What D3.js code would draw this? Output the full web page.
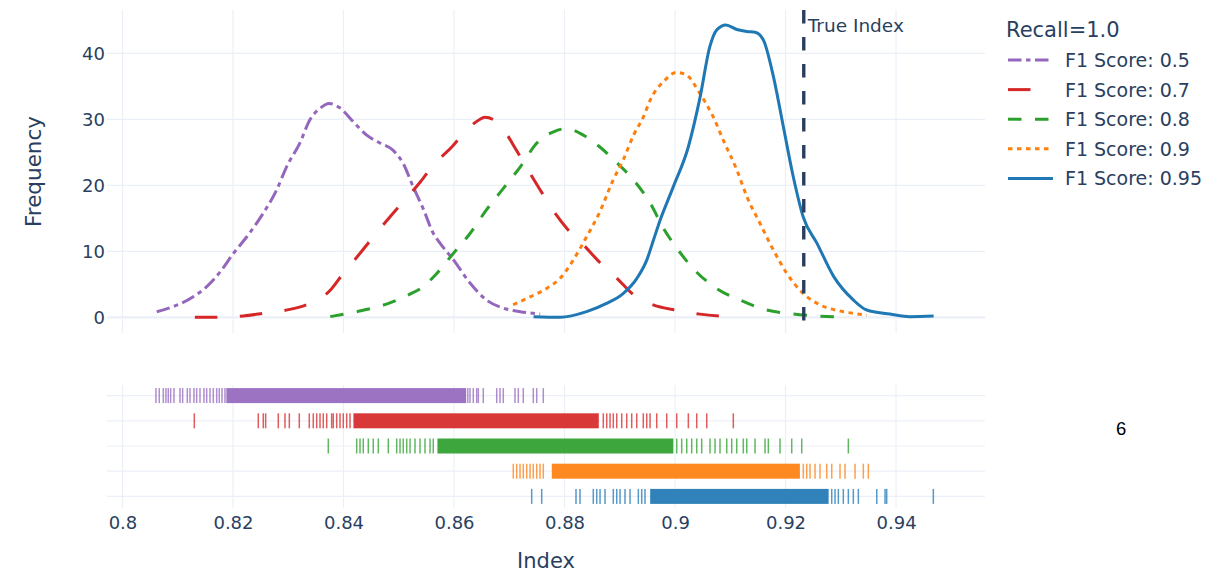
<!DOCTYPE html>
<html><head><meta charset="utf-8">
<script src="https://cdn.jsdelivr.net/npm/d3@7"></script>
<style>body{margin:0;background:#fff} svg{display:block}</style>
</head><body><svg id="c" width="1212" height="574"></svg>
<script>
// ---------- DATA ----------
const categories = ["F1 Score: 0.5", "F1 Score: 0.7", "F1 Score: 0.8", "F1 Score: 0.9", "F1 Score: 0.95"];
const legendTitle = "Recall=1.0";
const xTicks = [0.8, 0.82, 0.84, 0.86, 0.88, 0.9, 0.92, 0.94];
const yTicks = [0, 10, 20, 30, 40];
const trueIndex = 0.9233;

// KDE curves [index, frequency]
const curve05 = [[0.8062,0.85],[0.8128,3.1],[0.8152,4.6],[0.8177,6.9],[0.8201,9.7],[0.8225,12.2],[0.8255,15.8],[0.8279,19.3],[0.8297,22.8],[0.8321,26.4],[0.8339,29.9],[0.8358,31.7],[0.8374,32.4],[0.8394,31.7],[0.8418,29.6],[0.8442,27.6],[0.8466,26.4],[0.8490,25.3],[0.8508,23.3],[0.8526,19.8],[0.8545,16.3],[0.8562,12.8],[0.8575,11.2],[0.8599,8.7],[0.8629,5.2],[0.8659,2.6],[0.8689,1.4],[0.8720,0.85],[0.8756,0.5]];
const curve07 = [[0.8131,0.0],[0.8170,0.0],[0.8219,0.2],[0.8255,0.6],[0.8303,1.2],[0.8333,1.9],[0.8376,4.1],[0.8400,6.7],[0.8430,9.7],[0.8454,12.2],[0.8484,15.2],[0.8508,17.5],[0.8539,20.5],[0.8563,23.1],[0.8596,25.8],[0.8620,28.1],[0.8645,29.9],[0.8656,30.3],[0.8677,29.6],[0.8689,28.5],[0.8713,25.3],[0.8732,22.6],[0.8756,19.3],[0.8777,16.5],[0.8807,13.2],[0.8834,11.0],[0.8864,8.3],[0.8895,5.9],[0.8925,3.4],[0.8958,1.95],[0.9003,1.05],[0.9045,0.48],[0.9100,0.1]];
const curve08 = [[0.8376,0.1],[0.8424,0.85],[0.8478,2.0],[0.8520,3.5],[0.8540,4.4],[0.8565,6.3],[0.8599,9.7],[0.8629,12.7],[0.8659,16.3],[0.8689,19.5],[0.8720,22.8],[0.8750,26.4],[0.8780,28.1],[0.8804,28.6],[0.8834,27.6],[0.8864,25.8],[0.8895,23.4],[0.8925,20.8],[0.8955,17.3],[0.8979,13.5],[0.9003,10.5],[0.9035,7.2],[0.9073,4.5],[0.9118,2.6],[0.9166,1.1],[0.9214,0.5],[0.9257,0.2],[0.9311,0.0]];
const curve09 = [[0.8707,1.9],[0.8738,3.1],[0.8768,4.4],[0.8792,5.9],[0.8816,8.7],[0.8840,12.2],[0.8864,16.0],[0.8888,20.8],[0.8906,23.8],[0.8925,27.6],[0.8943,30.4],[0.8955,32.9],[0.8979,35.7],[0.9003,37.1],[0.9021,36.7],[0.9045,33.9],[0.9069,30.4],[0.9087,26.9],[0.9112,22.3],[0.9130,18.3],[0.9154,14.2],[0.9178,10.2],[0.9202,6.7],[0.9232,3.6],[0.9262,1.9],[0.9305,0.85],[0.9347,0.35]];
const curve095 = [[0.8744,0.1],[0.8792,0.0],[0.8840,0.85],[0.8876,2.1],[0.8906,3.6],[0.8931,5.9],[0.8949,8.7],[0.8961,11.7],[0.8973,14.7],[0.8997,19.8],[0.9024,25.8],[0.9045,33.2],[0.9063,41.0],[0.9075,43.5],[0.9092,44.3],[0.9112,43.6],[0.9130,43.3],[0.9145,43.2],[0.9160,42.0],[0.9178,36.5],[0.9196,28.9],[0.9214,21.3],[0.9232,15.2],[0.9257,11.2],[0.9287,6.2],[0.9323,2.6],[0.9347,1.1],[0.9389,0.5],[0.9425,0.1],[0.9468,0.2]];

// Rug: individually visible ticks, plus [start, end] spans where ticks merge into a solid band
const rug05 = [0.80606,0.80666,0.80739,0.80787,0.80829,0.80872,0.80932,0.81041,0.81089,0.81173,0.81222,0.81294,0.81343,0.81403,0.81475,0.81524,0.81584,0.81644,0.81705,0.81752,0.81801,0.81855,0.8625,0.8629,0.86349,0.86411,0.8644,0.8653,0.86773,0.86833,0.86892,0.87104,0.87164,0.87254,0.87435,0.87497,0.87616];
const dense05 = [0.8188, 0.8622];
const rug07 = [0.8130,0.82458,0.82548,0.82591,0.8282,0.82941,0.8302,0.8320,0.83381,0.83453,0.83515,0.83575,0.83634,0.83696,0.83786,0.83815,0.83877,0.83937,0.83996,0.84058,0.84118,0.88702,0.88764,0.88824,0.88883,0.88945,0.89035,0.89126,0.89216,0.89307,0.89426,0.89488,0.89548,0.89669,0.8985,0.90031,0.90241,0.90393,0.90574,0.91055];
const dense07 = [0.8418, 0.8862];
const rug08 = [0.83725,0.84239,0.84299,0.84358,0.84449,0.84539,0.8463,0.84811,0.84963,0.85023,0.85082,0.85144,0.85204,0.85294,0.85385,0.85475,0.85566,0.85625,0.90031,0.90121,0.90212,0.90302,0.90393,0.90483,0.90633,0.90724,0.90814,0.90936,0.91026,0.91117,0.91236,0.91298,0.91448,0.91629,0.91689,0.919,0.92112,0.92293,0.93137];
const dense08 = [0.8570, 0.8997];
const rug09 = [0.87073,0.87134,0.87195,0.87254,0.87316,0.87376,0.87435,0.87497,0.87557,0.87616,0.92322,0.92383,0.92443,0.92534,0.92624,0.92746,0.92836,0.92986,0.93077,0.93258,0.93408,0.93499];
const dense09 = [0.8777, 0.9226];
const rug095 = [0.87406,0.87587,0.88208,0.8828,0.88521,0.88583,0.88643,0.88733,0.88883,0.88945,0.89005,0.89095,0.89186,0.89336,0.89397,0.89457,0.92836,0.92896,0.92956,0.93046,0.93137,0.93227,0.93318,0.93651,0.93801,0.93831,0.94675];
const dense095 = [0.8955, 0.9278];

// ---------- STYLE ----------
const colors = ["#9467bd", "#d62728", "#2ca02c", "#ff7f0e", "#1f77b4"];
const dashes = ["13.5,4.5,4.5,4.5", "22.5,22.5", "13.5,13.5", "4.5,4.5", null];
const curves = [curve05, curve07, curve08, curve09, curve095];
const rugs = [rug05, rug07, rug08, rug09, rug095];
const denses = [dense05, dense07, dense08, dense09, dense095];
const textColor = "#2a3f5f", gridColor = "#EBF0F8";
const FONT = "'DejaVu Sans', Verdana, sans-serif";

const svg = d3.select("#c");
svg.append("rect").attr("width", 1212).attr("height", 574).attr("fill", "#fff");

const x = d3.scaleLinear().domain([0.7972, 0.9561]).range([107, 985]);
const y = d3.scaleLinear().domain([-2.38, 46.56]).range([333, 10]);
const yr = d3.scalePoint().domain(categories).range([383, 509]).padding(0.5);
const [L, R] = x.range();

// grid - top
const g = svg.append("g");
g.selectAll(".vg").data(xTicks).join("line")
  .attr("x1", d => x(d)).attr("x2", d => x(d)).attr("y1", y.range()[1]).attr("y2", y.range()[0])
  .attr("stroke", gridColor).attr("stroke-width", 1.2);
g.selectAll(".hg").data(yTicks).join("line")
  .attr("x1", L).attr("x2", R).attr("y1", d => y(d)).attr("y2", d => y(d))
  .attr("stroke", gridColor).attr("stroke-width", d => d === 0 ? 2.2 : 1.2);
// grid - rug
g.selectAll(".vg2").data(xTicks).join("line")
  .attr("x1", d => x(d)).attr("x2", d => x(d)).attr("y1", 385).attr("y2", 508)
  .attr("stroke", gridColor).attr("stroke-width", 1.2);
g.selectAll(".hg2").data(categories).join("line")
  .attr("x1", L).attr("x2", R).attr("y1", d => yr(d)).attr("y2", d => yr(d))
  .attr("stroke", gridColor).attr("stroke-width", 1.2);

// curves
const line = d3.line().x(d => x(d[0])).y(d => y(d[1])).curve(d3.curveMonotoneX);
curves.forEach((c, i) => {
  svg.append("path").datum(c).attr("d", line).attr("fill", "none")
    .attr("stroke", colors[i]).attr("stroke-width", 3)
    .attr("stroke-dasharray", dashes[i]).attr("stroke-linejoin", "round");
});

// rug
categories.forEach((cat, i) => {
  const cy = yr(cat);
  const gg = svg.append("g");
  gg.append("rect").attr("x", x(denses[i][0])).attr("width", x(denses[i][1]) - x(denses[i][0]))
    .attr("y", cy - 7.5).attr("height", 15).attr("fill", colors[i]).attr("fill-opacity", 0.92);
  gg.selectAll("line").data(rugs[i]).join("line")
    .attr("x1", d => x(d)).attr("x2", d => x(d)).attr("y1", cy - 7.5).attr("y2", cy + 7.5)
    .attr("stroke", colors[i]).attr("stroke-width", 1.5).attr("stroke-opacity", 0.75);
});

// true index line
svg.append("line").attr("x1", x(trueIndex)).attr("x2", x(trueIndex))
  .attr("y1", y.range()[1]).attr("y2", y.range()[0])
  .attr("stroke", textColor).attr("stroke-width", 3.4).attr("stroke-dasharray", "13.5,13.5");
svg.append("text").attr("x", x(trueIndex) + 4).attr("y", 31.5)
  .attr("font-family", FONT).attr("font-size", 18.5).attr("fill", textColor).text("True Index");

// axes
const yAxis = svg.append("g").attr("transform", `translate(${L},0)`)
  .call(d3.axisLeft(y).tickValues(yTicks).tickSize(0).tickPadding(2));
yAxis.select(".domain").remove();
yAxis.selectAll("text").attr("font-family", FONT).attr("font-size", 18).attr("fill", textColor);

const xAxis = svg.append("g").attr("transform", `translate(0,508)`)
  .call(d3.axisBottom(x).tickValues(xTicks).tickSize(0).tickPadding(8).tickFormat(d => String(d)));
xAxis.select(".domain").remove();
xAxis.selectAll("text").attr("font-family", FONT).attr("font-size", 18).attr("fill", textColor);

svg.append("text").attr("transform", "translate(41,171.5) rotate(-90)").attr("text-anchor", "middle")
  .attr("font-family", FONT).attr("font-size", 21.5).attr("fill", textColor).text("Frequency");
svg.append("text").attr("x", (L + R) / 2).attr("y", 568).attr("text-anchor", "middle")
  .attr("font-family", FONT).attr("font-size", 21).attr("fill", textColor).text("Index");

// legend
const lg = svg.append("g");
lg.append("text").attr("x", 1006).attr("y", 37).attr("font-family", FONT).attr("font-size", 21)
  .attr("fill", textColor).text(legendTitle);
categories.forEach((cat, i) => {
  const ly = 60 + i * 29.6;
  lg.append("line").attr("x1", 1008).attr("x2", 1053).attr("y1", ly).attr("y2", ly)
    .attr("stroke", colors[i]).attr("stroke-width", 3).attr("stroke-dasharray", dashes[i]);
  lg.append("text").attr("x", 1065).attr("y", ly + 7).attr("font-family", FONT).attr("font-size", 19)
    .attr("fill", textColor).text(cat);
});

// stray label
svg.append("text").attr("x", 1116).attr("y", 435).attr("font-family", "'Liberation Sans', Arial, sans-serif")
  .attr("font-size", 18.5).attr("fill", "#000").text("6");
</script></body></html>
